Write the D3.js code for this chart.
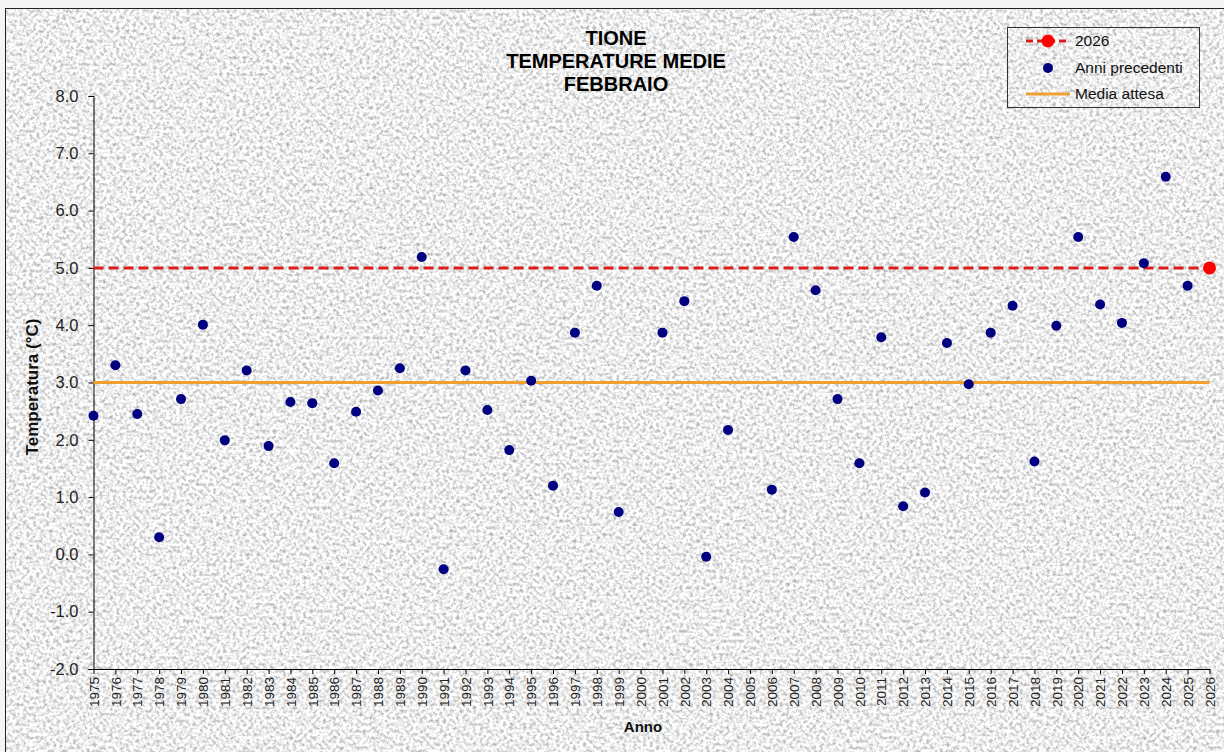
<!DOCTYPE html>
<html>
<head>
<meta charset="utf-8">
<script src="https://cdn.jsdelivr.net/npm/d3@7"></script>
<style>
  html, body { margin: 0; padding: 0; background: #f4f4f4; }
  svg { display: block; font-family: "Liberation Sans", Arial, sans-serif; }
</style>
</head>
<body>
<svg id="chart" width="1224" height="752"></svg>
<script>
// ---- data ----
const years = [1975,1976,1977,1978,1979,1980,1981,1982,1983,1984,1985,1986,1987,1988,1989,1990,
  1991,1992,1993,1994,1995,1996,1997,1998,1999,2001,2002,2003,2004,2006,2007,2008,2009,2010,
  2011,2012,2013,2014,2015,2016,2017,2018,2019,2020,2021,2022,2023,2024,2025];
const temps = [2.42,3.30,2.45,0.30,2.71,4.01,1.99,3.21,1.89,2.66,2.64,1.59,2.49,2.86,3.25,5.19,
  -0.26,3.21,2.52,1.82,3.03,1.20,3.87,4.69,0.74,3.87,4.42,-0.04,2.17,1.13,5.54,4.61,2.71,1.59,
  3.79,0.84,1.08,3.69,2.97,3.87,4.34,1.62,3.99,5.54,4.36,4.04,5.08,6.59,4.69];
const currentYear = [2026];
const currentValue = [5.0];
const mediaAttesa = [3.0];
const xTickYears = [1975,1976,1977,1978,1979,1980,1981,1982,1983,1984,1985,1986,1987,1988,1989,
  1990,1991,1992,1993,1994,1995,1996,1997,1998,1999,2000,2001,2002,2003,2004,2005,2006,2007,
  2008,2009,2010,2011,2012,2013,2014,2015,2016,2017,2018,2019,2020,2021,2022,2023,2024,2025,2026];
const yTicks = [-2,-1,0,1,2,3,4,5,6,7,8];
const titleLines = ["TIONE", "TEMPERATURE MEDIE", "FEBBRAIO"];
const legendLabels = ["2026", "Anni precedenti", "Media attesa"];

// ---- drawing ----
const FONT = "Liberation Sans, Arial, sans-serif";
const svg = d3.select("#chart");
const defs = svg.append("defs");
const f = defs.append("filter").attr("id", "granite")
  .attr("x", 0).attr("y", 0).attr("width", "100%").attr("height", "100%")
  .attr("color-interpolation-filters", "sRGB");
f.append("feTurbulence").attr("type", "fractalNoise").attr("baseFrequency", 0.3)
  .attr("numOctaves", 3).attr("seed", 7).attr("result", "n");
f.append("feColorMatrix").attr("type", "matrix")
  .attr("values", "0.7 0 0 0 0.58  0.7 0 0 0 0.58  0.7 0 0 0 0.58  0 0 0 0 1");

// chart area background with texture
svg.append("rect").attr("x", 6).attr("y", 9).attr("width", 1218).attr("height", 743)
  .attr("filter", "url(#granite)");
svg.append("rect").attr("x", 5.5).attr("y", 8.5).attr("width", 1230).attr("height", 760)
  .attr("fill", "none").attr("stroke", "#222").attr("stroke-width", 1);

const x = d3.scaleLinear().domain([1975, 2026]).range([93.5, 1209.5]);
const y = d3.scaleLinear().domain([-2, 8]).range([669, 96]);

// y axis
const yAxis = d3.axisLeft(y).tickValues(yTicks).tickSize(5).tickPadding(10)
  .tickFormat(d => d.toFixed(1));
const gy = svg.append("g").attr("transform", `translate(${x(1975)},0)`).call(yAxis)
  .attr("font-size", 16.5).attr("font-family", FONT);
gy.select(".domain").attr("stroke", "#000");
gy.selectAll(".tick line").attr("stroke", "#000");
gy.selectAll(".tick text").attr("fill", "#222");

// x axis
const xAxis = d3.axisBottom(x).tickValues(xTickYears).tickSize(5).tickSizeOuter(0)
  .tickFormat(d => String(d));
const gx = svg.append("g").attr("transform", `translate(0,${y(-2)})`).call(xAxis)
  .attr("font-size", 13.5).attr("font-family", FONT);
gx.select(".domain").attr("stroke", "#000");
gx.selectAll(".tick line").attr("stroke", "#000");
gx.selectAll(".tick text")
  .attr("fill", "#222")
  .attr("transform", "rotate(-90)")
  .attr("text-anchor", "end")
  .attr("x", -8).attr("y", 0).attr("dy", "0.35em");

// media attesa line
svg.append("line")
  .attr("x1", x(1975)).attr("x2", x(2026))
  .attr("y1", y(mediaAttesa[0])).attr("y2", y(mediaAttesa[0]))
  .attr("stroke", "#F0A030").attr("stroke-width", 3);

// 2026 dashed line
svg.append("line")
  .attr("x1", x(1975)).attr("x2", x(currentYear[0]))
  .attr("y1", y(currentValue[0])).attr("y2", y(currentValue[0]))
  .attr("stroke", "#DD1C1C").attr("stroke-width", 3).attr("stroke-dasharray", "10,5");

// previous years points
svg.append("g").selectAll("circle").data(years.map((yr, i) => ({yr, v: temps[i]})))
  .join("circle")
  .attr("cx", d => x(d.yr)).attr("cy", d => y(d.v)).attr("r", 5)
  .attr("fill", "#000080");

// 2026 marker
svg.append("circle").attr("cx", x(currentYear[0])).attr("cy", y(currentValue[0]))
  .attr("r", 6.5).attr("fill", "#FF0000");

// title
svg.append("text").attr("x", 616).attr("y", 45).attr("text-anchor", "middle")
  .attr("font-size", 20).attr("font-weight", "bold").attr("fill", "#000")
  .attr("font-family", FONT)
  .selectAll("tspan").data(titleLines).join("tspan")
  .attr("x", 616).attr("dy", (d, i) => i === 0 ? 0 : 22.8).text(d => d);

// axis titles
svg.append("text").attr("transform", `translate(38,387) rotate(-90)`)
  .attr("text-anchor", "middle").attr("font-size", 17).attr("font-weight", "bold")
  .attr("font-family", FONT).attr("fill", "#111").text("Temperatura (°C)");
svg.append("text").attr("x", 643).attr("y", 732).attr("text-anchor", "middle")
  .attr("font-size", 15).attr("font-weight", "bold").attr("font-family", FONT)
  .attr("fill", "#111").text("Anno");

// legend
const lg = svg.append("g");
lg.append("rect").attr("x", 1007.5).attr("y", 27.5).attr("width", 192).attr("height", 80)
  .attr("fill", "none").attr("stroke", "#333").attr("stroke-width", 1);
const rowY = [41, 68, 94];
lg.append("line").attr("x1", 1026).attr("x2", 1070).attr("y1", rowY[0]).attr("y2", rowY[0])
  .attr("stroke", "#DD1C1C").attr("stroke-width", 3).attr("stroke-dasharray", "7,4");
lg.append("circle").attr("cx", 1048).attr("cy", rowY[0]).attr("r", 6.5).attr("fill", "#FF0000");
lg.append("circle").attr("cx", 1048).attr("cy", rowY[1]).attr("r", 5).attr("fill", "#000080");
lg.append("line").attr("x1", 1026).attr("x2", 1070).attr("y1", rowY[2]).attr("y2", rowY[2])
  .attr("stroke", "#F0A030").attr("stroke-width", 3);
lg.selectAll("text.lab").data(legendLabels).join("text").attr("class", "lab")
  .attr("x", 1075).attr("y", (d, i) => rowY[i]).attr("dy", "0.35em")
  .attr("font-size", 15.5).attr("font-family", FONT).attr("fill", "#111").text(d => d);
</script>
</body>
</html>
